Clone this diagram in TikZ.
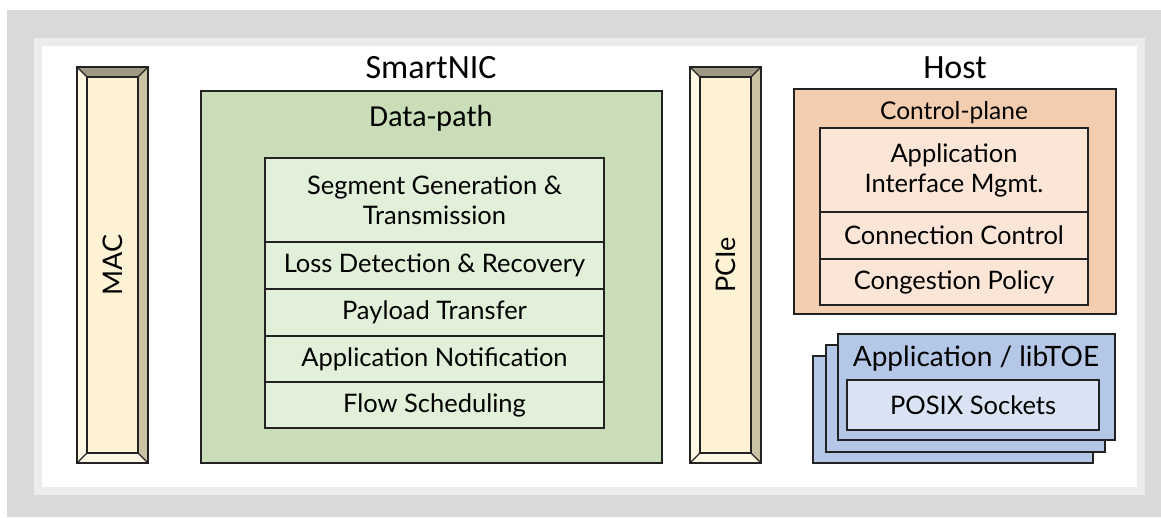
\documentclass[tikz,border=0pt]{standalone}
\usepackage{fontspec}
\setmainfont{Lato}
\newfontfamily\titlefont{Carlito}
\definecolor{bgGray}{HTML}{D9D9D9}
\definecolor{bandGray}{HTML}{ECECEC}
\definecolor{barFace}{HTML}{FDF2D4}
\definecolor{barTop}{HTML}{9F9983}
\definecolor{barRight}{HTML}{CBC2A4}
\definecolor{barLight}{HTML}{FEF7E3}
\definecolor{dpOuter}{HTML}{C9DEB8}
\definecolor{dpInner}{HTML}{E2EFD9}
\definecolor{cpOuter}{HTML}{F2CDAF}
\definecolor{cpInner}{HTML}{FBE5D6}
\definecolor{appOuter}{HTML}{B4C7E7}
\definecolor{appInner}{HTML}{DAE3F3}
\definecolor{ink}{HTML}{222222}
\begin{document}
\begin{tikzpicture}[x=1pt,y=-1pt,
  boxline/.style={draw=ink,line width=1.8pt},
  cell/.style={boxline,inner sep=0pt,outer sep=0pt,align=center,anchor=north west},
  rowtext/.style={font=\fontsize{25.5}{30}\selectfont},
  heading/.style={font=\titlefont\fontsize{34}{36}\selectfont},
]
\useasboundingbox (0,0) rectangle (1161,517);
% frame around the figure
\fill[bgGray] (7,10) rectangle (1161,517);
\fill[bandGray] (34,38) rectangle (1145,495);
\fill[white] (42,46) rectangle (1137,487);

% bevelled bar: #1 name, #2 left x, #3 label
\newcommand{\bevelbar}[3]{%
  \begin{scope}[shift={(#2,67)}]
    \fill[barLight] (0,0) -- (10,10) -- (10,386) -- (0,396) -- cycle;
    \fill[barLight] (0,396) -- (10,386) -- (61,386) -- (71,396) -- cycle;
    \fill[barRight] (71,0) -- (61,10) -- (61,386) -- (71,396) -- cycle;
    \fill[barTop] (0,0) -- (71,0) -- (61,10) -- (10,10) -- cycle;
    \draw[ink,line width=1.2pt] (0,0) -- (10,10) (71,0) -- (61,10) (0,396) -- (10,386) (71,396) -- (61,386);
    \node[boxline,fill=barFace,minimum width=51pt,minimum height=376pt,anchor=north west,inner sep=0pt,outer sep=0pt] (#1) at (10,10) {};
    \draw[boxline] (0,0) rectangle (71,396);
  \end{scope}
  \node[rotate=90,font=\fontsize{27}{30}\selectfont] at (#1.center) {#3};%
}
\bevelbar{mac}{77}{MAC}
\bevelbar{pcie}{690}{PCIe}

% SmartNIC data-path
\node[heading] (smartnic) at (431,68) {SmartNIC};
\node[boxline,fill=dpOuter,minimum width=461pt,minimum height=372pt,anchor=north west,inner sep=0pt,outer sep=0pt] (datapath) at (201,91) {};
\node[font=\titlefont\fontsize{30.5}{32}\selectfont] (dptitle) at (431,118) {Data-path};
\begin{scope}[every node/.style={cell,fill=dpInner,minimum width=339pt,rowtext}]
  \node[minimum height=84pt] (seg) at (265,158) {Segment Generation \&\\Transmission};
  \node[minimum height=47pt] (loss) at (seg.south west) {Loss Detection \& Recovery};
  \node[minimum height=47pt] (payload) at (loss.south west) {Payload Transfer};
  \node[minimum height=46pt] (notify) at (payload.south west) {Application Notification};
  \node[minimum height=46pt] (flow) at (notify.south west) {Flow Scheduling};
\end{scope}

% Host side
\node[heading] (host) at (955,68) {Host};
\node[boxline,fill=cpOuter,minimum width=322pt,minimum height=225pt,anchor=north west,inner sep=0pt,outer sep=0pt] (ctrl) at (794,89) {};
\node[font=\fontsize{24.5}{28}\selectfont] (cptitle) at (954,113) {Control-plane};
\begin{scope}[every node/.style={cell,fill=cpInner,minimum width=268pt,rowtext}]
  \node[minimum height=84pt] (appif) at (820,128) {Application\\Interface Mgmt.};
  \node[minimum height=47pt] (conn) at (appif.south west) {Connection Control};
  \node[minimum height=46pt] (cong) at (conn.south west) {Congestion Policy};
\end{scope}

% stacked application sheets
\node[cell,fill=appOuter,minimum width=280pt,minimum height=107pt] (sheetc) at (813,356) {};
\node[cell,fill=appOuter,minimum width=279pt,minimum height=107pt] (sheetb) at (826,345) {};
\node[cell,fill=appOuter,minimum width=277pt,minimum height=106pt] (sheeta) at (838,334) {};
\node[font=\fontsize{28}{30}\selectfont] (apptitle) at (976,359) {Application / libTOE};
\node[cell,fill=appInner,minimum width=252pt,minimum height=50pt,font=\fontsize{25.5}{30}\selectfont] (posix) at (847,380) {POSIX Sockets};
\end{tikzpicture}
\end{document}
